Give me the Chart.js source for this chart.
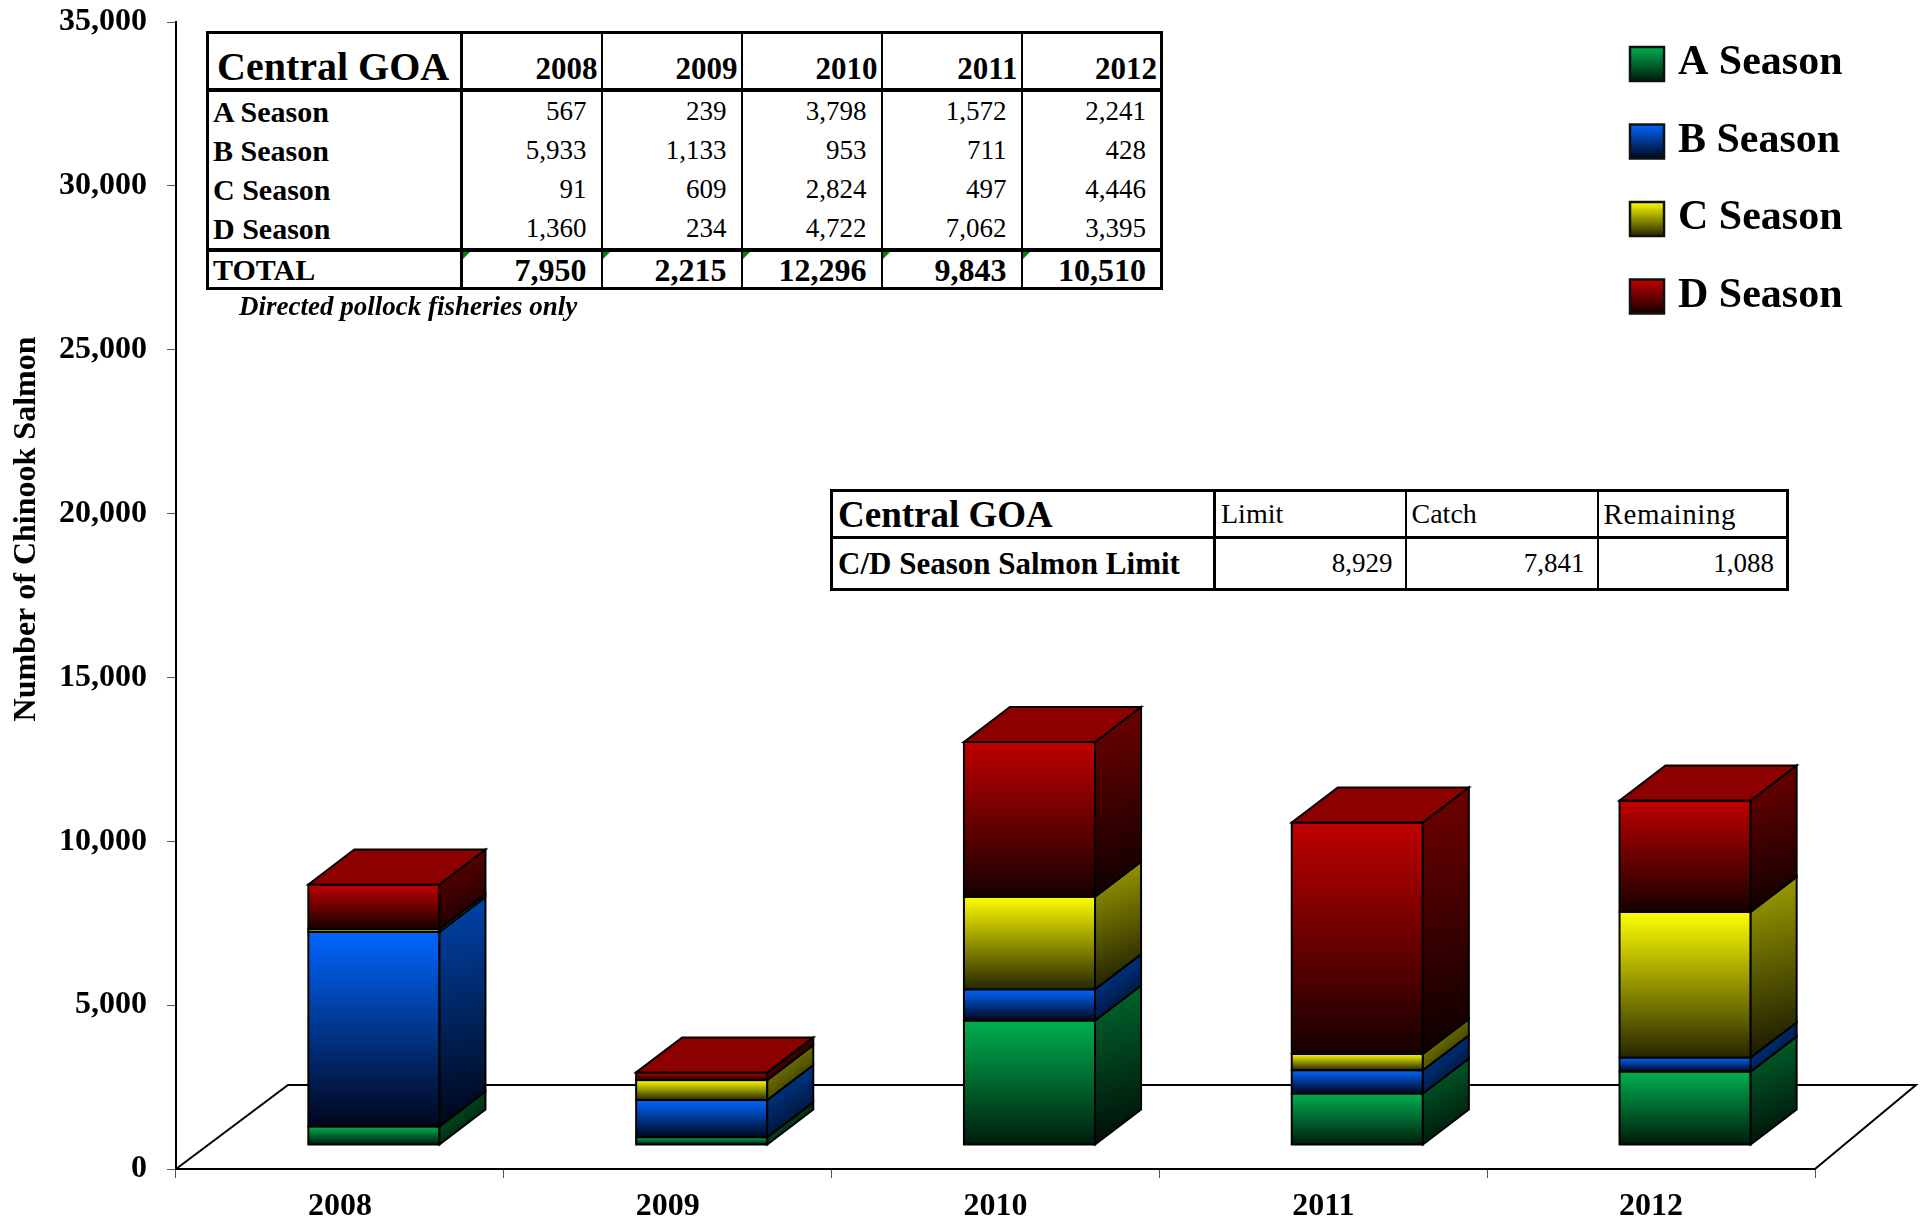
<!DOCTYPE html>
<html>
<head>
<meta charset="utf-8">
<script src="https://cdn.jsdelivr.net/npm/chart.js@4.4.1/dist/chart.umd.min.js"></script>
<style>
body { margin: 0; background: #fff; }
#wrap { position: relative; width: 1925px; height: 1221px; overflow: hidden; }
#chart { position: absolute; left: 0; top: 0; }
table { position: absolute; border-collapse: collapse; table-layout: fixed; background: #fff;
        font-family: 'Liberation Serif', 'Times New Roman', serif; color: #000; }
td { white-space: nowrap; overflow: hidden; line-height: 1; }

#t1 { left: 206px; top: 31px; width: 955px; border: 3px solid #000; }
#t1 td { border-left: 2px solid #000; padding: 0 14px 0 0; text-align: right; font-size: 27px; height: 39px; position: relative; }
#t1 td.lab { text-align: left; font-weight: bold; font-size: 30px; padding-left: 4px; border-left: none; border-right: 3px solid #000; }
#t1 tr.head td { height: 50px; vertical-align: bottom; font-weight: bold; font-size: 31px; padding: 0 3px 4px 0; border-bottom: 4px solid #000; }
#t1 tr.head td.lab { font-size: 40px; padding-left: 8px; padding-bottom: 1px; }
#t1 tr.total td { border-top: 4px solid #000; font-weight: bold; font-size: 32px; height: 35px; }
#t1 tr.total td.lab { font-size: 30px; }
.tri { position: absolute; left: 0; top: 0; width: 0; height: 0; border-top: 7px solid #008000; border-right: 7px solid transparent; }

#note { position: absolute; left: 239px; top: 291px; font: italic bold 27px 'Liberation Serif', serif; }

#t2 { left: 830px; top: 489px; width: 956px; border: 3px solid #000; }
#t2 td { border-left: 2px solid #000; font-size: 28px; padding: 0 5px; }
#t2 td.lab { font-weight: bold; border-left: none; border-right: 3px solid #000; }
#t2 tr.head td { height: 44px; border-bottom: 3px solid #000; text-align: left; }
#t2 tr.head td.lab { font-size: 37px; }
#t2 tr.head td.last { font-size: 29px; letter-spacing: 0.6px; }
#t2 tr.body td { height: 49px; text-align: right; padding-right: 12px; font-size: 27px; }
#t2 tr.body td.lab { text-align: left; font-size: 31px; }
</style>
</head>
<body>
<div id="wrap">
  <canvas id="chart" width="1925" height="1221"></canvas>
  <table id="t1"></table>
  <div id="note">Directed pollock fisheries only</div>
  <table id="t2"></table>
</div>
<script>
// data
const years = ['2008', '2009', '2010', '2011', '2012'];
const seasonNames = ['A Season', 'B Season', 'C Season', 'D Season'];
const seasonA = [567, 239, 3798, 1572, 2241];
const seasonB = [5933, 1133, 953, 711, 428];
const seasonC = [91, 609, 2824, 497, 4446];
const seasonD = [1360, 234, 4722, 7062, 3395];
const totals = [7950, 2215, 12296, 9843, 10510];
const limitCols = ['Limit', 'Catch', 'Remaining'];
const limitVals = [8929, 7841, 1088];

const fmt = v => v.toLocaleString('en-US');
const serif = "'Liberation Serif', 'Times New Roman', serif";

// colours: front top/bottom, side top/bottom, top face
const shades = [
  { front: ['#00B050', '#001C0C'], side: ['#006B30', '#000803'], top: '#007A38' },
  { front: ['#0066FF', '#00061A'], side: ['#0046B0', '#000412'], top: '#0050C0' },
  { front: ['#FFFF00', '#262600'], side: ['#A3A300', '#121200'], top: '#A0A000' },
  { front: ['#C00000', '#160000'], side: ['#720000', '#0A0000'], top: '#8C0000' }
];

// tables
const t1 = document.getElementById('t1');
let cg = '<colgroup><col style="width:254px">';
years.forEach(() => cg += '<col style="width:140px">');
t1.innerHTML = cg + '</colgroup>';
let head = '<tr class="head"><td class="lab">Central GOA</td>';
years.forEach(y => head += '<td>' + y + '</td>');
t1.innerHTML += head + '</tr>';
[seasonA, seasonB, seasonC, seasonD].forEach((vals, i) => {
  let r = '<tr><td class="lab">' + seasonNames[i] + '</td>';
  vals.forEach(v => r += '<td>' + fmt(v) + '</td>');
  t1.innerHTML += r + '</tr>';
});
let tot = '<tr class="total"><td class="lab">TOTAL</td>';
totals.forEach(v => tot += '<td><span class="tri"></span>' + fmt(v) + '</td>');
t1.innerHTML += tot + '</tr>';

const t2 = document.getElementById('t2');
let h2 = '<colgroup><col style="width:383px"><col style="width:191px"><col style="width:192px"><col style="width:190px"></colgroup>';
h2 += '<tr class="head"><td class="lab">Central GOA</td>';
limitCols.forEach((c, i) => h2 += '<td' + (i === limitCols.length - 1 ? ' class="last"' : '') + '>' + c + '</td>');
h2 += '</tr><tr class="body"><td class="lab">C/D Season Salmon Limit</td>';
limitVals.forEach(v => h2 += '<td>' + fmt(v) + '</td>');
t2.innerHTML = h2 + '</tr>';

// 3D look
const FLOOR_DX = 112, FLOOR_DX_RIGHT = 101, FLOOR_DY = -84;
const BAR_OX = 34, BAR_OY = -24;
const BAR_DX = 46, BAR_DY = -35;

const box3d = {
  id: 'box3d',
  beforeDatasetsDraw(chart) {
    const ctx = chart.ctx, ca = chart.chartArea;
    ctx.save();
    ctx.strokeStyle = '#000';
    ctx.lineWidth = 2;
    ctx.beginPath();
    ctx.moveTo(ca.left, ca.bottom);
    ctx.lineTo(ca.left + FLOOR_DX, ca.bottom + FLOOR_DY);
    ctx.lineTo(ca.right + FLOOR_DX_RIGHT, ca.bottom + FLOOR_DY);
    ctx.lineTo(ca.right, ca.bottom);
    ctx.stroke();

    const n = chart.data.labels.length;
    ctx.lineJoin = 'miter';
    for (let j = 0; j < n; j++) {
      let last = -1;
      chart.data.datasets.forEach((ds, i) => { if (ds.data[j] > 0) last = i; });
      chart.data.datasets.forEach((ds, i) => {
        if (!(ds.data[j] > 0)) return;
        const el = chart.getDatasetMeta(i).data[j];
        const l = el.x - el.width / 2 + BAR_OX, r = el.x + el.width / 2 + BAR_OX;
        const t = el.y + BAR_OY, b = el.base + BAR_OY;
        const s = shades[i];

        let g = ctx.createLinearGradient(0, t, 0, b);
        g.addColorStop(0, s.front[0]);
        g.addColorStop(1, s.front[1]);
        ctx.fillStyle = g;
        ctx.fillRect(l, t, r - l, b - t);
        ctx.strokeRect(l, t, r - l, b - t);

        g = ctx.createLinearGradient(r, t + BAR_DY, r + BAR_DX, b);
        g.addColorStop(0, s.side[0]);
        g.addColorStop(1, s.side[1]);
        ctx.fillStyle = g;
        ctx.beginPath();
        ctx.moveTo(r, t);
        ctx.lineTo(r + BAR_DX, t + BAR_DY);
        ctx.lineTo(r + BAR_DX, b + BAR_DY);
        ctx.lineTo(r, b);
        ctx.closePath();
        ctx.fill();
        ctx.stroke();

        if (i === last) {
          ctx.fillStyle = s.top;
          ctx.beginPath();
          ctx.moveTo(l, t);
          ctx.lineTo(l + BAR_DX, t + BAR_DY);
          ctx.lineTo(r + BAR_DX, t + BAR_DY);
          ctx.lineTo(r, t);
          ctx.closePath();
          ctx.fill();
          ctx.stroke();
        }
      });
    }
    ctx.restore();
    return false;
  },
  afterDraw(chart) {
    const ctx = chart.ctx;
    ctx.save();
    // y title
    ctx.translate(27, 529);
    ctx.rotate(-Math.PI / 2);
    ctx.fillStyle = '#000';
    ctx.font = 'bold 32px ' + serif;
    ctx.textAlign = 'center';
    ctx.textBaseline = 'middle';
    ctx.fillText('Number of Chinook Salmon', 0, 0);
    ctx.restore();

    // legend
    ctx.save();
    chart.data.datasets.forEach((ds, i) => {
      const x = 1630, y = 47 + i * 77.5, sz = 34;
      const g = ctx.createLinearGradient(0, y, 0, y + sz);
      g.addColorStop(0, shades[i].front[0]);
      g.addColorStop(1, shades[i].front[1]);
      ctx.fillStyle = g;
      ctx.fillRect(x, y, sz, sz);
      ctx.strokeStyle = '#111';
      ctx.lineWidth = 2.5;
      ctx.strokeRect(x, y, sz, sz);
      ctx.fillStyle = '#000';
      ctx.font = 'bold 42px ' + serif;
      ctx.textBaseline = 'alphabetic';
      ctx.fillText(ds.label, 1678, y + 27);
    });
    ctx.restore();
  }
};

new Chart(document.getElementById('chart'), {
  type: 'bar',
  data: {
    labels: years,
    datasets: [seasonA, seasonB, seasonC, seasonD].map((vals, i) => ({
      label: seasonNames[i],
      data: vals,
      backgroundColor: shades[i].front[0],
      borderWidth: 0,
      barPercentage: 0.4,
      categoryPercentage: 1
    }))
  },
  options: {
    responsive: false,
    animation: false,
    devicePixelRatio: 1,
    layout: { padding: { top: 22, right: 110, left: 0, bottom: 0 } },
    plugins: { legend: { display: false }, tooltip: { enabled: false } },
    scales: {
      x: {
        stacked: true,
        afterFit: s => { s.height = 52; s.paddingLeft = 0; s.paddingRight = 0; },
        border: { display: true, color: '#000', width: 2 },
        grid: { drawOnChartArea: false, drawTicks: true, tickLength: 9, color: '#555', offset: true },
        ticks: { color: '#000', padding: 10, font: { family: serif, size: 32, weight: 'bold' } }
      },
      y: {
        stacked: true,
        min: 0,
        max: 35000,
        afterFit: s => { s.width = 176; s.paddingTop = 0; s.paddingBottom = 0; },
        border: { display: true, color: '#000', width: 2 },
        grid: { drawOnChartArea: false, drawTicks: true, tickLength: 9, color: '#555' },
        ticks: {
          stepSize: 5000,
          color: '#000',
          padding: 20,
          font: { family: serif, size: 32, weight: 'bold' },
          callback: v => fmt(v)
        }
      }
    }
  },
  plugins: [box3d]
});
</script>
</body>
</html>
